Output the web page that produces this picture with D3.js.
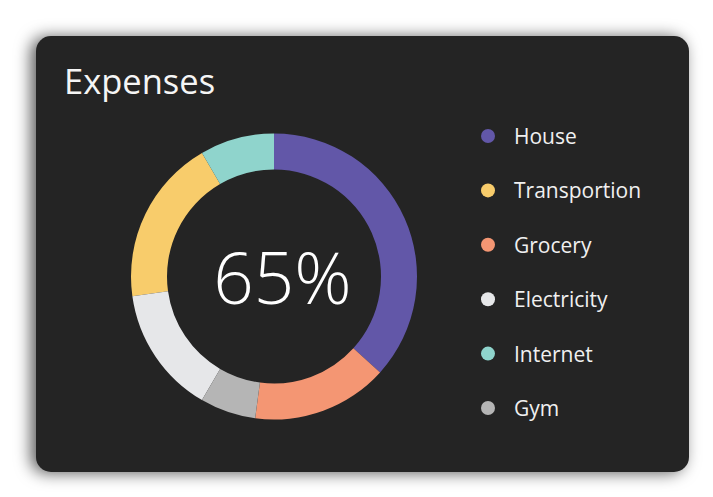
<!DOCTYPE html>
<html>
<head>
<meta charset="utf-8">
<script src="https://cdn.jsdelivr.net/npm/d3@7"></script>
<style>
  html, body { margin: 0; padding: 0; background: #ffffff; }
  body { width: 713px; height: 497px; overflow: hidden; position: relative; }
  #card {
    position: absolute; left: 36px; top: 36px; width: 653px; height: 436px;
    background: #242424; border-radius: 15px;
    box-shadow: -5px 1px 16px rgba(0,0,0,0.65);
  }
  svg { position: absolute; left: 0; top: 0; }
</style>
</head>
<body>
<div id="card"></div>
<svg id="chart" width="713" height="497"></svg>
<script>
// Data
const title = "Expenses";
const centerLabel = "65%";
const categories = ["House", "Transportion", "Grocery", "Electricity", "Internet", "Gym"];
const values = [36.7, 18.8, 15.4, 14.4, 8.4, 6.3];
const colors = ["#6257a8", "#f8cc6b", "#f49673", "#e6e7e9", "#8fd4cc", "#b5b5b5"];
// clockwise order of slices starting at 12 o'clock
const sliceOrder = ["House", "Grocery", "Gym", "Electricity", "Transportion", "Internet"];

const data = categories.map((c, i) => ({ name: c, value: values[i], color: colors[i] }));

const svg = d3.select("#chart");
const cx = 274, cy = 276.5, outerR = 143, innerR = 107;

svg.append("text")
  .attr("x", 64).attr("y", 94)
  .attr("fill", "#f5f5f5")
  .attr("font-family", "'Open Sans', sans-serif")
  .attr("font-size", 34.5)
  .text(title);

const pie = d3.pie()
  .value(d => d.value)
  .sort((a, b) => sliceOrder.indexOf(a.name) - sliceOrder.indexOf(b.name));
const arc = d3.arc().innerRadius(innerR).outerRadius(outerR);

const g = svg.append("g").attr("transform", `translate(${cx},${cy})`);
g.selectAll("path").data(pie(data)).join("path")
  .attr("d", arc)
  .attr("fill", d => d.data.color);

g.append("text")
  .attr("x", 8.5).attr("y", 27.5)
  .attr("text-anchor", "middle")
  .attr("fill", "#ffffff")
  .attr("font-family", "'Open Sans', sans-serif")
  .attr("font-weight", 300)
  .attr("font-size", 71)
  .text(centerLabel);

// Legend
const ly = d3.scalePoint().domain(categories).range([136, 408]);
const legend = svg.append("g");
const items = legend.selectAll("g").data(data).join("g")
  .attr("transform", d => `translate(488,${ly(d.name)})`);
items.append("circle").attr("r", 7).attr("fill", d => d.color);
items.append("text")
  .attr("x", 26).attr("y", 8)
  .attr("fill", "#f0f0f0")
  .attr("font-family", "'Open Sans', sans-serif")
  .attr("font-size", 21)
  .text(d => d.name);
</script>
</body>
</html>
